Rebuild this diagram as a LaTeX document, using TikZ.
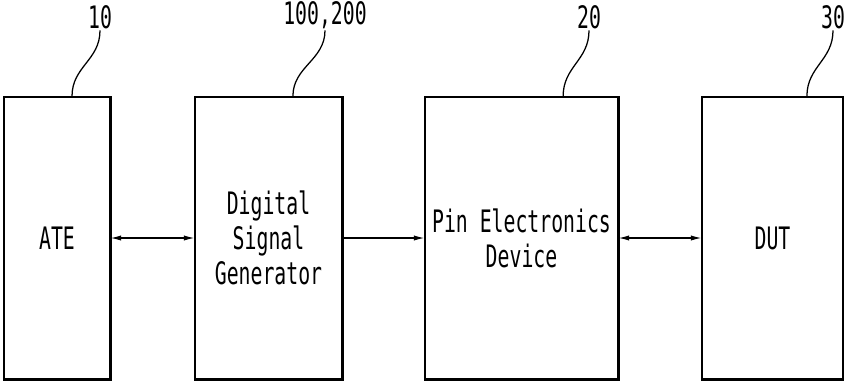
\documentclass[tikz,border=0pt]{standalone}
\usepackage{fontspec}
\setmainfont{DejaVu Sans Mono}[FakeStretch=0.64]
\usetikzlibrary{arrows.meta}
\begin{document}
\begin{tikzpicture}[x=0.025cm, y=-0.025cm, every node/.style={font=\fontsize{22}{25}\selectfont}]
\tikzset{blk/.style={draw,line width=0.9pt,minimum height=7.05cm,align=center,inner sep=0pt},
  lbl/.style={inner sep=1pt},
  lead/.style={line width=0.9pt},
  con/.style={line width=0.8pt,{Latex[length=2.6mm,width=1.3mm]}-{Latex[length=2.6mm,width=1.3mm]}}}
\useasboundingbox (0,0) rectangle (845,381);
\node[blk,minimum width=2.65cm] (ate) at (57,238) {ATE};
\node[blk,minimum width=3.675cm] (dsg) at (268.5,238) {Digital\\Signal\\Generator};
\node[blk,minimum width=4.825cm] (pe) at (521.5,238) {Pin Electronics\\Device};
\node[blk,minimum width=3.525cm] (dut) at (772.5,238) {DUT};
% heavy right and bottom edges
\draw[line width=2pt] (ate.north east) -- (ate.south east) -- (ate.south west);
\draw[line width=2pt] (dsg.north east) -- (dsg.south east) -- (dsg.south west);
\draw[line width=2pt] (pe.north east) -- (pe.south east) -- (pe.south west);
\draw[line width=2pt] (dut.south east) -- (dut.south west);
% reference numerals
\node[lbl] (n10) at (100,17) {10};
\node[lbl] (n100) at (325,15) {100,200};
\node[lbl] (n20) at (589,17) {20};
\node[lbl] (n30) at (833,17) {30};
\draw[lead] (n10.south) .. controls +(0,30) and +(0,-30) .. ([xshift=0.375cm]ate.north);
\draw[lead] (n100.south) .. controls +(0,30) and +(0,-30) .. ([xshift=0.61cm]dsg.north);
\draw[lead] (n20.south) .. controls +(0,30) and +(0,-30) .. ([xshift=1.04cm]pe.north);
\draw[lead] (n30.south) .. controls +(0,30) and +(0,-30) .. ([xshift=0.86cm]dut.north);
% signal paths
\draw[con] (ate.east) -- (dsg.west);
\draw[con,{Latex[length=2.6mm,width=1.3mm]}-] (pe.west) -- (dsg.east);
\draw[con] (pe.east) -- (dut.west);
\end{tikzpicture}
\end{document}
